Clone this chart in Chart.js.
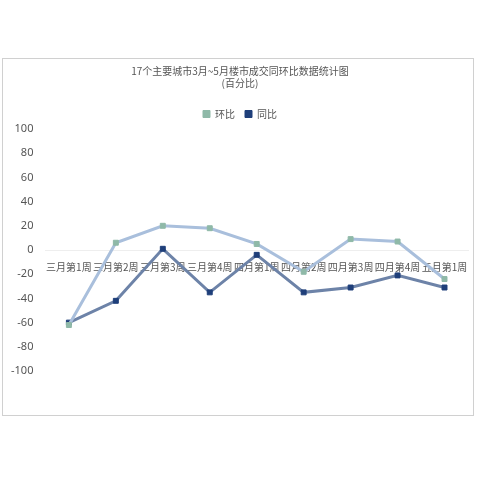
<!DOCTYPE html>
<html><head><meta charset="utf-8">
<script src="https://cdn.jsdelivr.net/npm/chart.js@4"></script>
<style>
body{margin:0;background:#fff;}
#box{position:absolute;left:2px;top:58px;width:470px;height:356px;border:1px solid #d0d0d0;}
</style></head><body>
<div id="box"><canvas id="c"></canvas></div>
<script>
const categories = ['三月第1周','三月第2周','三月第3周','三月第4周','四月第1周','四月第2周','四月第3周','四月第4周','五月第1周'];
const huanbi = [-62, 6, 20, 18, 5, -18, 9, 7, -24];
const tongbi = [-60, -42, 1, -35, -4, -35, -31, -21, -31];
const yTicks = [100, 80, 60, 40, 20, 0, -20, -40, -60, -80, -100];

new Chart(document.getElementById('c'), {
  type: 'line',
  data: {
    labels: categories,
    datasets: [
      { label: '环比', data: huanbi, borderColor: '#a9bfdc', backgroundColor: '#8fb9a8', pointBackgroundColor: '#8fb9a8', pointBorderColor: '#8fb9a8', pointStyle: 'rect', pointRadius: 3.5, pointBorderWidth: 1, borderWidth: 3, tension: 0 },
      { label: '同比', data: tongbi, borderColor: '#6d83a8', backgroundColor: '#1f3f7a', pointBackgroundColor: '#1f3f7a', pointBorderColor: '#1f3f7a', pointStyle: 'rect', pointRadius: 3.5, pointBorderWidth: 1, borderWidth: 3, tension: 0 }
    ]
  },
  options: {
    responsive: true, maintainAspectRatio: false, animation: false,
    layout: { padding: { left: 4, right: 0, top: 2, bottom: 44 } },
    plugins: {
      title: { display: true, text: ['17个主要城市3月~5月楼市成交同环比数据统计图', '(百分比)'], color: '#555', font: { size: 10, family: 'Noto Sans CJK SC', weight: 'normal' }, padding: { top: 4, bottom: 10 } },
      legend: { padding: 20, labels: { usePointStyle: true, pointStyle: 'rect', boxWidth: 7, boxHeight: 7, color: '#555', font: { size: 10, family: 'Noto Sans CJK SC' } } }
    },
    scales: {
      x: { position: { y: 0 }, offset: true, grid: { display: false }, border: { color: '#eee' },
        ticks: { color: '#555', font: { size: 10, family: 'Noto Sans CJK SC' }, maxRotation: 0, autoSkip: false } },
      y: { min: -100, max: 100, grid: { display: false }, border: { display: false },
        afterBuildTicks: ax => { ax.ticks = yTicks.map(v => ({ value: v })); },
        ticks: { color: '#555', font: { size: 11, family: 'Noto Sans' }, padding: 4 } }
    }
  }
});
</script></body></html>
